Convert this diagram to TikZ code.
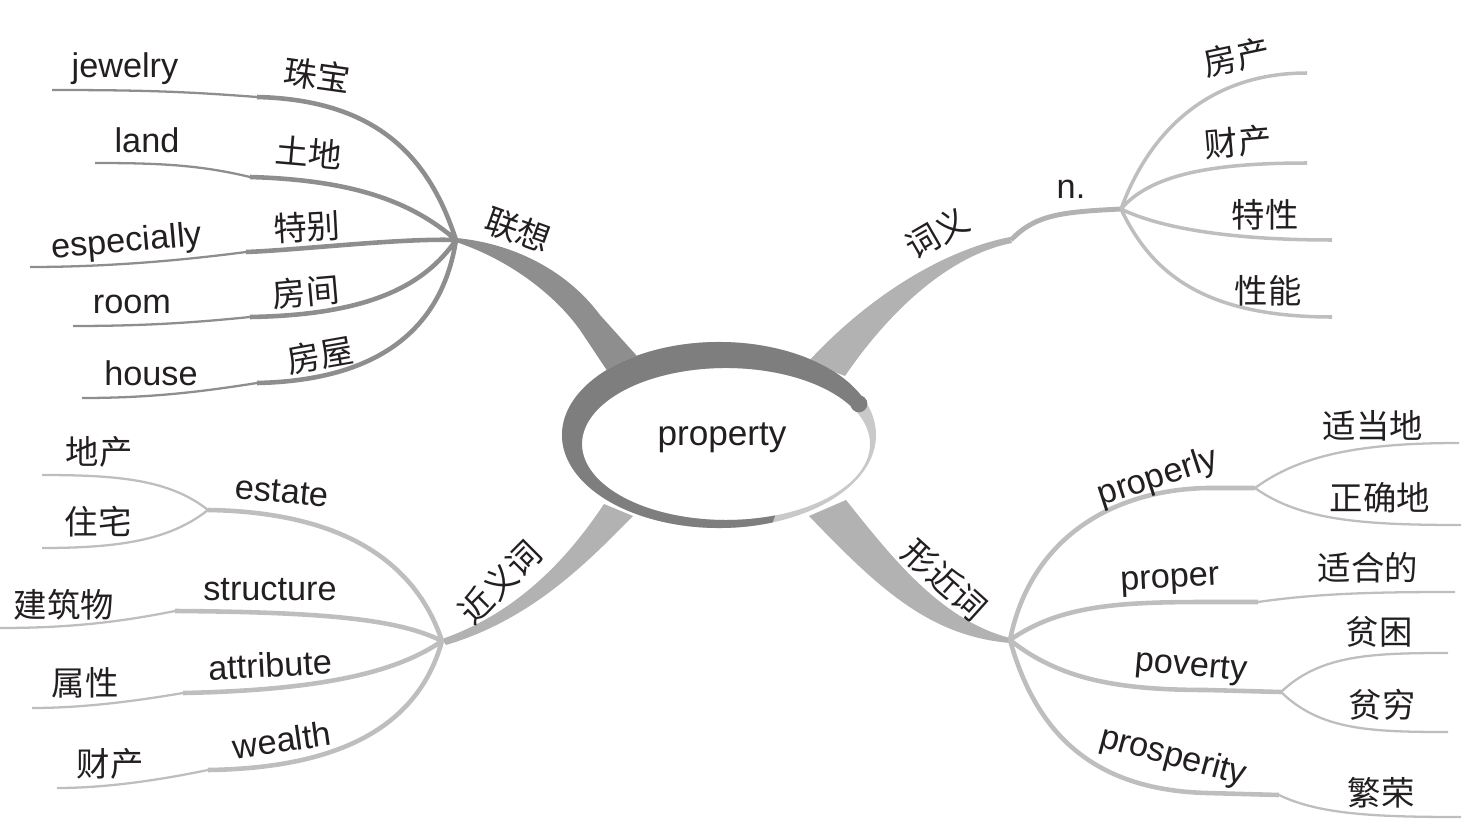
\documentclass[tikz,border=0pt]{standalone}
\usepackage{fontspec}
\setmainfont{Liberation Sans}
\newfontfamily\cjk{Noto Sans CJK SC}
\definecolor{inkA}{HTML}{8E8E8E}
\definecolor{inkB}{HTML}{BEBEBE}
\definecolor{inkC}{HTML}{B2B2B2}
\definecolor{ringc}{HTML}{7E7E7E}
\definecolor{rimc}{HTML}{C9C9C9}
\definecolor{txt}{HTML}{231F20}

\begin{document}
\begin{tikzpicture}[x=0.02cm,y=-0.02cm,
  en/.style={font=\fontsize{19.5}{22}\selectfont,text=txt,inner sep=0pt},
  zh/.style={font=\cjk\fontsize{19}{22}\selectfont,text=txt,inner sep=0pt},
  stemA/.style={draw=inkA,line width=2.6pt},
  tipA/.style={draw=inkA,line width=1.3pt},
  stemB/.style={draw=inkB,line width=2.6pt},
  tipB/.style={draw=inkB,line width=1.3pt}]
\useasboundingbox (0,0) rectangle (1464,838);

\coordinate (lx) at (456,240);
\coordinate (cy) at (1121,209);
\coordinate (jy) at (442,641);
\coordinate (xj) at (1010,640);
\coordinate (estJ) at (208,510);
\coordinate (plyJ) at (1255,488);
\coordinate (povJ) at (1281,692);
\coordinate (jewS) at (257,97);   \coordinate (jewE) at (52,90);
\coordinate (lanS) at (250,177);  \coordinate (lanE) at (95,163);
\coordinate (espS) at (246,252);  \coordinate (espE) at (30,267);
\coordinate (rooS) at (250,317);  \coordinate (rooE) at (73,326);
\coordinate (houS) at (257,383);  \coordinate (houE) at (82,398);
\coordinate (strS) at (175,611);  \coordinate (strE) at (0,628);
\coordinate (attS) at (183,693);  \coordinate (attE) at (32,708);
\coordinate (weaS) at (208,770);  \coordinate (weaE) at (57,788);
\coordinate (prpS) at (1258,602); \coordinate (prpE) at (1455,592);
\coordinate (prsS) at (1279,795); \coordinate (prsE) at (1461,817);

\fill[inkA] (456,238) .. controls (510,243) and (565,268) .. (600,315) -- (645,365) -- (610,375) -- (580,330) .. controls (555,295) and (510,260) .. (456,242) -- cycle;
\fill[inkC] (808,362) .. controls (860,305) and (935,252) .. (1010,237) -- (1012,243) .. controls (950,255) and (890,310) .. (845,376) -- cycle;
\fill[inkC] (604,504) .. controls (570,555) and (520,612) .. (442,639) -- (446,645) .. controls (530,620) and (585,565) .. (633,516) -- cycle;
\fill[inkC] (846,500) .. controls (890,555) and (940,620) .. (1010,638) -- (1010,643) .. controls (930,636) and (880,590) .. (809,516) -- cycle;
\draw[inkC,line width=2.8pt] (1011,240) .. controls (1035,215) and (1060,212) .. (cy);

\path[stemA]
(lx) .. controls (430,160) and (380,100) .. (jewS)
(lx) .. controls (410,200) and (350,180) .. (lanS)
(lx) .. controls (400,238) and (300,250) .. (espS)
(lx) .. controls (425,285) and (370,315) .. (rooS)
(lx) .. controls (445,310) and (400,380) .. (houS);
\path[tipA]
(jewS) .. controls (190,92) and (150,90) .. (jewE)
(lanS) .. controls (200,165) and (160,163) .. (lanE)
(espS) .. controls (200,258) and (120,267) .. (espE)
(rooS) .. controls (200,322) and (150,326) .. (rooE)
(houS) .. controls (200,392) and (150,398) .. (houE);

\path[draw=inkB,line width=2pt]
(cy) .. controls (1150,130) and (1210,73) .. (1307,73)
(cy) .. controls (1150,175) and (1210,163) .. (1307,163)
(cy) .. controls (1160,228) and (1230,240) .. (1332,240)
(cy) .. controls (1150,270) and (1200,317) .. (1332,317);

\path[stemB]
(jy) .. controls (415,560) and (340,512) .. (estJ)
(jy) .. controls (400,620) and (330,612) .. (strS)
(jy) .. controls (400,670) and (330,690) .. (attS)
(jy) .. controls (420,720) and (350,768) .. (weaS)
(xj) .. controls (1030,540) and (1110,490) .. (1207,488) -- (plyJ)
(xj) .. controls (1060,605) and (1120,602) .. (1207,602) -- (prpS)
(xj) .. controls (1060,680) and (1120,690) .. (1207,690) -- (povJ)
(xj) .. controls (1035,730) and (1090,790) .. (1207,793) -- (prsS);
\path[tipB]
(estJ) .. controls (170,480) and (120,475) .. (42,475)
(estJ) .. controls (170,540) and (120,548) .. (42,548)
(strS) .. controls (120,622) and (70,628) .. (strE)
(attS) .. controls (130,702) and (80,708) .. (attE)
(weaS) .. controls (150,782) and (100,788) .. (weaE)
(plyJ) .. controls (1300,455) and (1360,443) .. (1459,443)
(plyJ) .. controls (1300,520) and (1360,525) .. (1461,525)
(prpS) .. controls (1320,593) and (1380,592) .. (prpE)
(povJ) .. controls (1320,655) and (1370,653) .. (1448,653)
(povJ) .. controls (1320,730) and (1370,732) .. (1448,732)
(prsS) .. controls (1320,815) and (1380,817) .. (prsE);

\fill[white] (726,444) ellipse [x radius=144, y radius=76];
\fill[rimc,even odd rule] (719,435) ellipse [x radius=157, y radius=93] (726,444) ellipse [x radius=144, y radius=76];
\fill[ringc] (861.3,395.7) arc[start angle=-25,end angle=-290,x radius=157,y radius=93] -- (775.2,515.4) arc[start angle=-290,end angle=-25,x radius=144,y radius=76] -- cycle;
\fill[ringc] (858.9,403.8) circle[radius=8.5];
\node[en,font=\fontsize{20}{22}\selectfont] (prop) at (722,438) {property};

\node[zh,rotate=-20] (assoc) at (518,230) {联想};
\node[zh,rotate=30] (mean) at (937,233) {词义};
\node[en] (noun) at (1071,189) {n.};
\node[zh,rotate=45] (syn) at (500,582) {近义词};
\node[zh,rotate=-42] (look) at (945,580) {形近词};

\node[en] (jewelry) at (125,69) {jewelry};
\node[zh,rotate=-8] (zhubao) at (317,75) {珠宝};
\node[en] (land) at (147,140) {land};
\node[zh,rotate=-5] (tudi) at (309,152) {土地};
\node[en,rotate=5] (especially) at (127,243) {especially};
\node[zh,rotate=3] (tebie) at (307,227) {特别};
\node[en] (room) at (132,304) {room};
\node[zh,rotate=5] (fangjian) at (306,292) {房间};
\node[en] (house) at (151,373) {house};
\node[zh,rotate=10] (fangwu) at (320,355) {房屋};

\node[zh,rotate=12] (fangchan) at (1237,57) {房产};
\node[zh,rotate=5] (caichanA) at (1238,142) {财产};
\node[zh] (texing) at (1265,215) {特性};
\node[zh] (xingneng) at (1268,291) {性能};

\node[zh] (dichan) at (99,452) {地产};
\node[zh] (zhuzhai) at (98,522) {住宅};
\node[en,rotate=-5] (estate) at (282,492) {estate};
\node[en] (structure) at (270,590) {structure};
\node[zh] (jianzhu) at (64,605) {建筑物};
\node[en,rotate=3] (attribute) at (270,665) {attribute};
\node[zh] (shuxing) at (85,683) {属性};
\node[en,rotate=8] (wealth) at (282,740) {wealth};
\node[zh] (caichanB) at (110,764) {财产};

\node[en,rotate=18] (properly) at (1158,478) {properly};
\node[zh] (shidang) at (1373,426) {适当地};
\node[zh] (zhengque) at (1380,498) {正确地};
\node[en,rotate=3] (proper) at (1170,582) {proper};
\node[zh] (shihe) at (1368,568) {适合的};
\node[en,rotate=-5] (poverty) at (1191,668) {poverty};
\node[zh] (pinkun) at (1379,632) {贫困};
\node[zh] (pinqiong) at (1382,705) {贫穷};
\node[en,rotate=-15] (prosperity) at (1173,757) {prosperity};
\node[zh] (fanrong) at (1381,793) {繁荣};
\end{tikzpicture}
\end{document}
